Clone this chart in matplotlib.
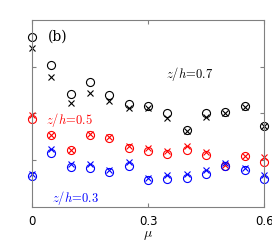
import matplotlib
matplotlib.use('Agg')
import matplotlib.pyplot as plt
import numpy as np

plt.rcParams['mathtext.fontset'] = 'cm'

mu = [0, 0.05, 0.1, 0.15, 0.2, 0.25, 0.3, 0.35, 0.4, 0.45, 0.5, 0.55, 0.6]

# z/h = 0.7
c07 = [3.64, 3.04, 2.41, 2.68, 2.39, 2.20, 2.17, 2.01, 1.64, 2.00, 2.03, 2.17, 1.74]
x07 = [3.41, 2.77, 2.23, 2.43, 2.27, 2.11, 2.11, 1.91, 1.63, 1.93, 2.01, 2.13, 1.74]
# z/h = 0.5
c05 = [1.89, 1.54, 1.21, 1.54, 1.47, 1.27, 1.20, 1.14, 1.22, 1.12, 0.88, 1.09, 0.97]
x05 = [1.96, 1.54, 1.21, 1.56, 1.50, 1.30, 1.26, 1.20, 1.31, 1.18, 0.90, 1.09, 1.07]
# z/h = 0.3
c03 = [0.67, 1.16, 0.86, 0.84, 0.74, 0.88, 0.57, 0.61, 0.63, 0.71, 0.88, 0.79, 0.61]
x03 = [0.70, 1.24, 0.91, 0.91, 0.80, 0.96, 0.63, 0.69, 0.70, 0.79, 0.94, 0.84, 0.68]

fig = plt.figure(figsize=(2.72, 2.43), dpi=100)
ax = fig.add_axes([0.118, 0.148, 0.853, 0.77])

for c, x, col in [(c07, x07, 'black'), (c05, x05, 'red'), (c03, x03, 'blue')]:
    ax.plot(mu, c, 'o', mfc='none', mec=col, ms=5.8, mew=0.8, clip_on=False)
    ax.plot(mu, x, 'x', color=col, ms=4.5, mew=0.8, clip_on=False)

ax.set_xlim(0, 0.6)
ax.set_ylim(0, 4)
ax.set_xticks([0, 0.3, 0.6])
ax.set_xticklabels(['0', '0.3', '0.6'])
ax.set_yticks([1, 2, 3])
ax.set_yticklabels([])
ax.tick_params(direction='in', length=3, width=0.8, color='gray',
               top=True, right=True, labelsize=8.5, pad=6)
for s in ax.spines.values():
    s.set_color('gray')
    s.set_linewidth(0.8)

ax.set_xlabel(r'$\mu$', fontsize=10, labelpad=0)

ax.text(0.041, 3.64, '(b)', fontsize=10, family='DejaVu Serif', va='center')
ax.text(0.347, 2.85, r'$z/h\!=\!0.7$', fontsize=9, color='black', va='center')
ax.text(0.036, 1.86, r'$z/h\!=\!0.5$', fontsize=9, color='red', va='center')
ax.text(0.052, 0.19, r'$z/h\!=\!0.3$', fontsize=9, color='blue', va='center')

fig.savefig('out.png', dpi=100)
